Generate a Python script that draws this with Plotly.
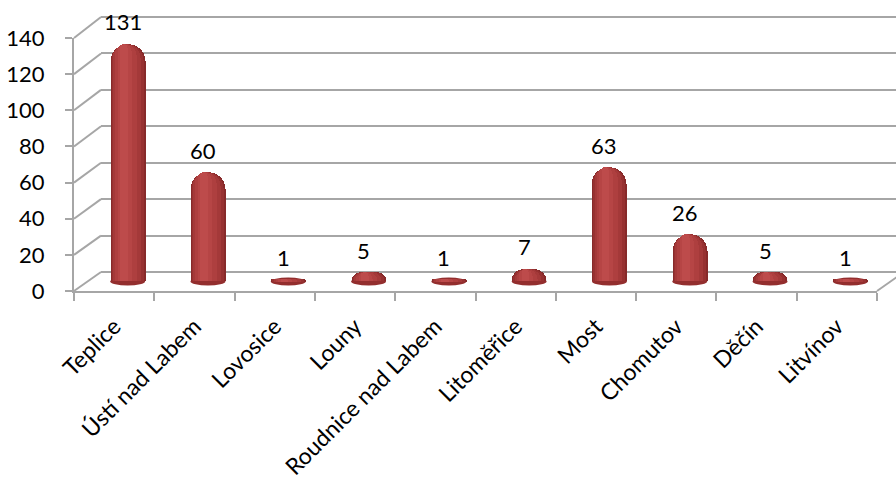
import plotly.graph_objects as go

# ---- data -----------------------------------------------------------------
categories = ["Teplice", "Ústí nad Labem", "Lovosice", "Louny", "Roudnice nad Labem",
              "Litoměřice", "Most", "Chomutov", "Děčín", "Litvínov"]
values = [131, 60, 1, 5, 1, 7, 63, 26, 5, 1]
y_ticks = [0, 20, 40, 60, 80, 100, 120, 140]

# ---- geometry (pixels) of the three depth planes of the 3-D box ------------
W, H = 896, 486
Y_MAX = 140
FRONT = dict(x0=74, x1=877, y0=291, y1=38)     # axis labels / floor front edge
MID = dict(x0=87.5, x1=890.5, y0=281.5, y1=27.5)  # plane of the cylinders
BACK = dict(x0=101, x1=904, y0=272, y1=17)     # back wall with gridlines

FONT = "Lato, 'Open Sans', sans-serif"
GRID = "#A6A6A6"
N = len(categories)


def fx(p):
    return p / W


def fy(p):
    return 1 - p / H


def y_domain(plane, pad):
    """Domain for a [-pad, Y_MAX+pad] y range so that 0..Y_MAX hits the plane."""
    k = (plane["y0"] - plane["y1"]) / Y_MAX
    return [fy(plane["y0"] + pad * k), fy(plane["y1"] - pad * k)]


def y_px(plane, v):
    return plane["y0"] - v * (plane["y0"] - plane["y1"]) / Y_MAX


fig = go.Figure()

# empty traces so that the wall and the front axes get their subplots
fig.add_trace(go.Scatter(x=[], y=[], xaxis="x", yaxis="y", hoverinfo="skip",
                         showlegend=False))
fig.add_trace(go.Scatter(x=[], y=[], xaxis="x2", yaxis="y2", hoverinfo="skip",
                         showlegend=False))

# ---- cylinders: overlaid rounded bars of decreasing width give the shading --
cat_px = (MID["x1"] - MID["x0"]) / N
bar_px = 35
bands = [
    (0, 35, "#872A2A"),
    (1.0, 33, "#973131"),
    (2.5, 30, "#A43939"),
    (4.5, 26, "#AE3F3F"),
    (7.0, 21, "#B64545"),
    (9.5, 17, "#BD4B4B"),
]
for left, right, color in bands:
    fig.add_trace(go.Bar(
        x=categories, y=values,
        width=(right - left) / cat_px,
        offset=(left - bar_px / 2) / cat_px,
        marker=dict(color=color, cornerradius="50%", line=dict(width=0)),
        xaxis="x3", yaxis="y3", hoverinfo="skip", showlegend=False,
    ))

shapes = []
# rounded bottom of every cylinder
for c in categories:
    shapes.append(dict(
        type="circle", xref="x3", yref="y3",
        xsizemode="pixel", ysizemode="pixel",
        xanchor=c, yanchor=0,
        x0=-bar_px / 2, x1=bar_px / 2, y0=-4, y1=4,
        fillcolor="#932E2E", line=dict(width=0), layer="below",
    ))

# side wall: slanted gridlines joining front axis and back wall
for v in y_ticks:
    shapes.append(dict(
        type="line", xref="paper", yref="paper",
        x0=fx(FRONT["x0"]), y0=fy(y_px(FRONT, v)),
        x1=fx(BACK["x0"]), y1=fy(y_px(BACK, v)),
        line=dict(color=GRID, width=2), layer="below",
    ))
# right edge of the floor
shapes.append(dict(
    type="line", xref="paper", yref="paper",
    x0=fx(FRONT["x1"]), y0=fy(FRONT["y0"]),
    x1=fx(BACK["x1"]), y1=fy(BACK["y0"]),
    line=dict(color=GRID, width=2), layer="below",
))

# value labels above the cylinders
annotations = [
    dict(x=c, y=v, xref="x3", yref="y3", text=str(v), showarrow=False,
         yanchor="middle", xanchor="center", yshift=22, xshift=-5,
         font=dict(family=FONT, size=22, color="#000000"))
    for c, v in zip(categories, values)
]

PAD = 4
fig.update_layout(
    width=W, height=H, autosize=False,
    margin=dict(l=0, r=0, t=0, b=0, pad=0, autoexpand=False),
    paper_bgcolor="white", plot_bgcolor="rgba(0,0,0,0)",
    barmode="overlay", bargap=0,
    showlegend=False,
    shapes=shapes, annotations=annotations,
    # back wall gridlines
    xaxis=dict(domain=[fx(BACK["x0"]), 1], range=[0, 1], visible=False,
               fixedrange=True, automargin=False),
    yaxis=dict(domain=y_domain(BACK, PAD), range=[-PAD, Y_MAX + PAD],
               tickvals=y_ticks, showticklabels=False, ticks="",
               showgrid=True, gridcolor=GRID, gridwidth=2,
               zeroline=False, showline=False, fixedrange=True,
               automargin=False),
    # front axes: value labels and category labels
    xaxis2=dict(domain=[fx(FRONT["x0"]), fx(FRONT["x1"])], anchor="y2",
                range=[-0.5, N - 0.5],
                tickmode="array", tickvals=list(range(N)), ticktext=categories,
                ticks="", tickangle=-45,
                minor=dict(tickmode="array",
                           tickvals=[i - 0.5 for i in range(N + 1)],
                           ticks="outside", ticklen=8, tickwidth=2,
                           tickcolor=GRID, showgrid=False),
                showline=True, linecolor=GRID, linewidth=2,
                showgrid=False, zeroline=False, ticklabelstandoff=11,
                tickfont=dict(family=FONT, size=23, color="#000000"),
                fixedrange=True, automargin=False),
    yaxis2=dict(domain=y_domain(FRONT, 0), anchor="x2", range=[0, Y_MAX],
                tickvals=y_ticks, ticks="outside", ticklen=7, tickwidth=2,
                tickcolor=GRID, showline=True, linecolor=GRID, linewidth=2,
                showgrid=False, zeroline=False, ticklabelstandoff=16,
                tickfont=dict(family=FONT, size=22, color="#000000"),
                fixedrange=True, automargin=False),
    # plane of the cylinders
    xaxis3=dict(domain=[fx(MID["x0"]), fx(MID["x1"])], anchor="y3",
                type="category", categoryorder="array", categoryarray=categories,
                range=[-0.5, N - 0.5], visible=False, fixedrange=True,
                automargin=False),
    yaxis3=dict(domain=y_domain(MID, PAD), anchor="x3",
                range=[-PAD, Y_MAX + PAD],
                visible=False, fixedrange=True, automargin=False),
)

fig.write_html("out.html", config=dict(displayModeBar=False))
